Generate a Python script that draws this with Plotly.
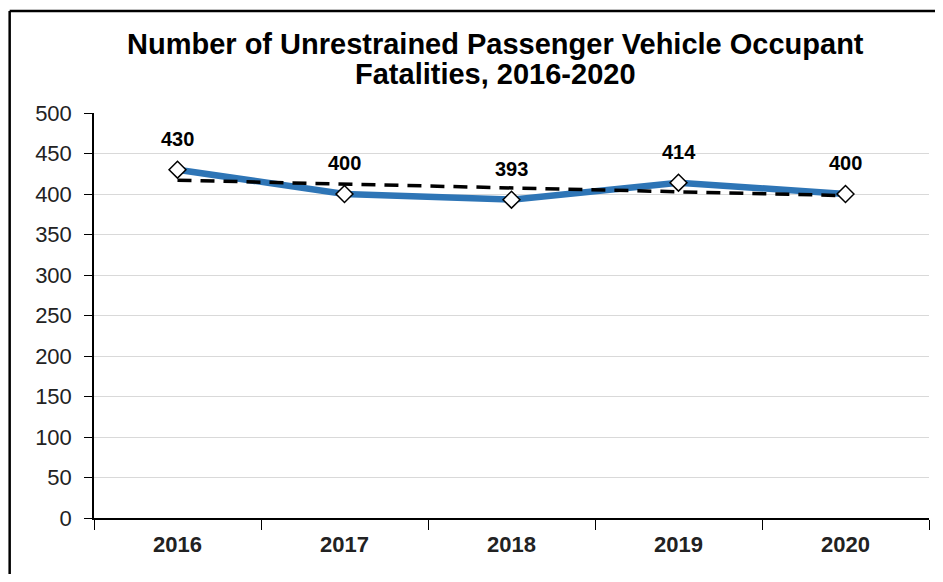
import plotly.graph_objects as go

# values
years = ["2016", "2017", "2018", "2019", "2020"]
fatalities = [430, 400, 393, 414, 400]
trend = [417, 412, 407, 403, 398]
y_ticks = [0, 50, 100, 150, 200, 250, 300, 350, 400, 450, 500]
title_lines = ["Number of Unrestrained Passenger Vehicle Occupant", "Fatalities, 2016-2020"]

blue = "rgb(46,117,182)"

fig = go.Figure()

# main series line
fig.add_trace(go.Scatter(
    x=years, y=fatalities, mode="lines",
    line=dict(color=blue, width=6.5),
    hoverinfo="skip", showlegend=False
))

# linear trend, dashed
fig.add_trace(go.Scatter(
    x=years, y=trend, mode="lines",
    line=dict(color="black", width=3.5, dash="14px,9px"),
    hoverinfo="skip", showlegend=False
))

# diamond markers on top
fig.add_trace(go.Scatter(
    x=years, y=fatalities, mode="markers",
    marker=dict(symbol="diamond", size=13, color="white",
                line=dict(color="black", width=1.5)),
    showlegend=False
))

# data labels (category axis -> use the index for x)
for i, v in enumerate(fatalities):
    fig.add_annotation(
        x=i, y=v, text=str(v), showarrow=False, yshift=31,
        font=dict(family="Liberation Sans, Arial", size=20, color="black", weight="bold")
    )

# title as two annotations to get the tight line spacing
for line, ty in zip(title_lines, [1.170, 1.096]):
    fig.add_annotation(
        x=0.481, y=ty, xref="paper", yref="paper", xanchor="center", yanchor="middle",
        text=line, showarrow=False,
        font=dict(family="Liberation Sans, Arial", size=29, color="black", weight="bold")
    )

# chart frame: only the left and top edges are visible in the reference
frame = dict(color="black", width=2.5)

# page body has an 8px margin: keep figure inside the window
fig.update_layout(
    width=927, height=566,
    margin=dict(l=86, r=6, t=105, b=56),
    paper_bgcolor="white",
    plot_bgcolor="white",
    font=dict(family="Liberation Sans, Arial", color="#222222"),
    xaxis=dict(
        type="category", range=[-0.5, 4.5],
        showline=True, linecolor="black", linewidth=1.5,
        ticks="outside", tickson="boundaries", ticklen=10, tickcolor="black",
        showgrid=False,
        tickfont=dict(size=22, color="#222222", weight="bold"),
        ticklabelstandoff=6,
        fixedrange=True,
    ),
    yaxis=dict(
        range=[0, 500], tickvals=y_ticks,
        showline=True, linecolor="black", linewidth=1.5,
        ticks="outside", ticklen=8, tickcolor="black",
        showgrid=True, gridcolor="#d9d9d9", gridwidth=1,
        zeroline=False,
        tickfont=dict(size=22, color="#222222"),
        ticklabelstandoff=8,
        fixedrange=True,
    ),
    shapes=[
        dict(type="line", xref="paper", yref="paper",
             x0=-0.101, x1=-0.101, y0=-0.2, y1=1.252, line=frame),
        dict(type="line", xref="paper", yref="paper",
             x0=-0.101, x1=1.02, y0=1.252, y1=1.252, line=frame),
    ],
)

# no scrollbars in the screenshot
fig.write_html("out.html", post_script="document.body.style.overflow='hidden';")
